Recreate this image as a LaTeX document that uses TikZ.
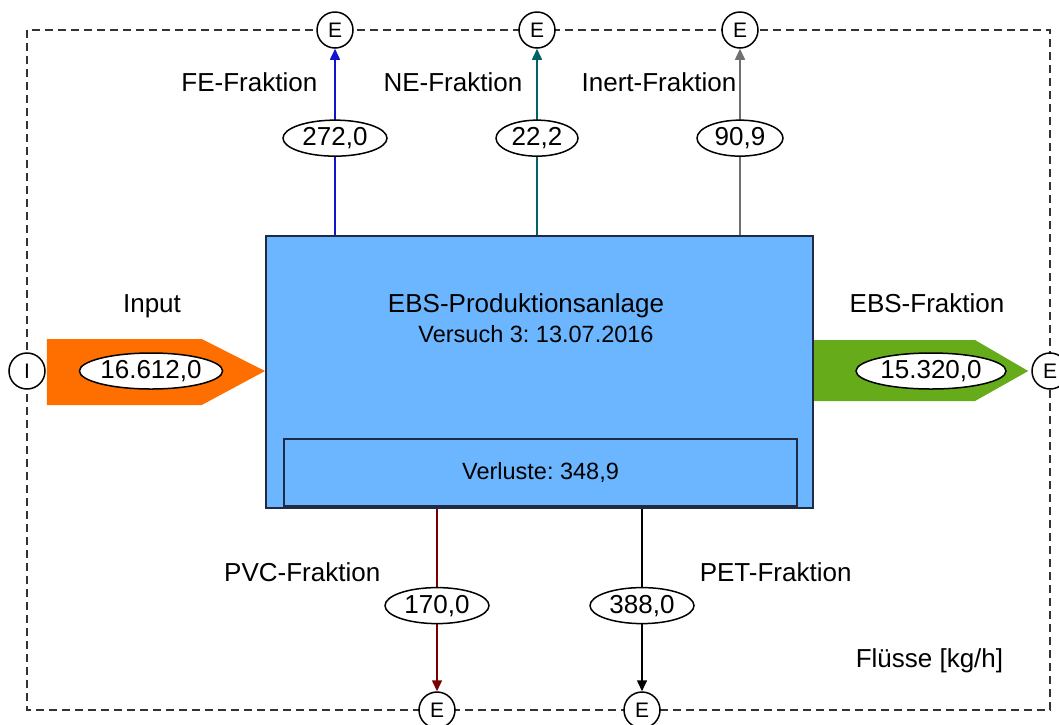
\documentclass[tikz,border=0pt]{standalone}
\usepackage{fontspec}
\setmainfont{Liberation Sans}
\frenchspacing
\usetikzlibrary{arrows.meta, positioning, shapes.geometric, calc}
\definecolor{cbox}{HTML}{6CB6FF}
\definecolor{cedge}{HTML}{1F2A44}
\definecolor{corange}{HTML}{FF6F00}
\definecolor{cgreen}{HTML}{66AC1A}
\definecolor{cblue}{HTML}{1414CC}
\definecolor{cteal}{HTML}{006262}
\definecolor{cgrey}{HTML}{707070}
\definecolor{cred}{HTML}{7A0000}
\tikzset{
  every picture/.style={x=1pt, y=-1pt, line width=1.5pt},
  lbl/.style={font=\fontsize{26}{30}\selectfont, inner sep=0pt},
  sub/.style={font=\fontsize{23.5}{28}\selectfont, inner sep=0pt},
  term/.style={circle, draw=black, fill=white, minimum size=36pt, inner sep=0pt, font=\fontsize{21}{24}\selectfont},
  val/.style={ellipse, draw=black, fill=white, inner sep=0pt, minimum height=36pt, minimum width=#1, font=\fontsize{26}{30}\selectfont},
  flow/.style={draw=#1, -{Triangle[length=11pt, width=10pt]}},
  frame/.style={draw=black!80, dash pattern=on 8pt off 5pt, line width=1.5pt},
}

\begin{document}
\begin{tikzpicture}
  \useasboundingbox (0,0) rectangle (1059,724);
  % system boundary
  \draw[frame] (27,30) rectangle (1050,710);
  % plant
  \node[draw=cedge, fill=cbox, line width=2pt, anchor=north west, minimum width=547pt, minimum height=272pt, inner sep=0pt] (plant) at (265,235) {};
  \node[draw=cedge, line width=2pt, anchor=south west, minimum width=513pt, minimum height=67pt, inner sep=0pt, sub] (loss) at (283,507) {Verluste: 348,9};
  \node[lbl, anchor=base] (title) at (526,312) {EBS-Produktionsanlage};
  \node[sub, anchor=base] (run) at (536,342) {Versuch 3: 13.07.2016};
  % import / export terminals
  \node[term] (iIn) at (27,371) {I};
  \node[term] (eEBS) at (1050,371) {E};
  \node[term] (eFE) at (335,30) {E};
  \node[term] (eNE) at (537,30) {E};
  \node[term] (eInert) at (740,30) {E};
  \node[term] (ePVC) at (437,710) {E};
  \node[term] (ePET) at (642,710) {E};
  % main flows
  \fill[corange] ($(iIn.east)+(1,-32)$) -- ++(155,0) -- (plant.west |- iIn) -- ($(iIn.east)+(156,34)$) -- ($(iIn.east)+(1,34)$) -- cycle;
  \node[val=142pt] (vIn) at (151,371) {16.612,0};
  \node[lbl, anchor=base] at (152,312) {Input};
  \fill[cgreen] ($(plant.east |- eEBS)+(0,-31)$) -- ++(161,0) -- ($(eEBS.west)+(-3,0)$) -- ($(plant.east |- eEBS)+(161,30)$) -- ($(plant.east |- eEBS)+(0,30)$) -- cycle;
  \node[val=150pt] (vEBS) at (931,371) {15.320,0};
  \node[lbl, anchor=base] at (927,312) {EBS-Fraktion};
  % side flows
  \draw[flow=cblue] (plant.north -| eFE) -- node[val=104pt, pos=0.52] (vFE) {272,0} (eFE);
  \draw[flow=cteal] (plant.north -| eNE) -- node[val=82pt, pos=0.52] (vNE) {22,2} (eNE);
  \draw[flow=cgrey] (plant.north -| eInert) -- node[val=86pt, pos=0.52] (vInert) {90,9} (eInert);
  \draw[flow=cred] (plant.south -| ePVC) -- node[val=104pt, pos=0.53] (vPVC) {170,0} (ePVC);
  \draw[flow=black] (plant.south -| ePET) -- node[val=104pt, pos=0.53] (vPET) {388,0} (ePET);
  \node[lbl, anchor=base east] at (318,91) {FE-Fraktion};
  \node[lbl, anchor=base east] at (523,91) {NE-Fraktion};
  \node[lbl, anchor=base east] at (737,91) {Inert-Fraktion};
  \node[lbl, anchor=base east] at (381,581) {PVC-Fraktion};
  \node[lbl, anchor=base west] at (699,581) {PET-Fraktion};
  \node[lbl, anchor=base west] at (855,667) {Flüsse [kg/h]};
\end{tikzpicture}
\end{document}
